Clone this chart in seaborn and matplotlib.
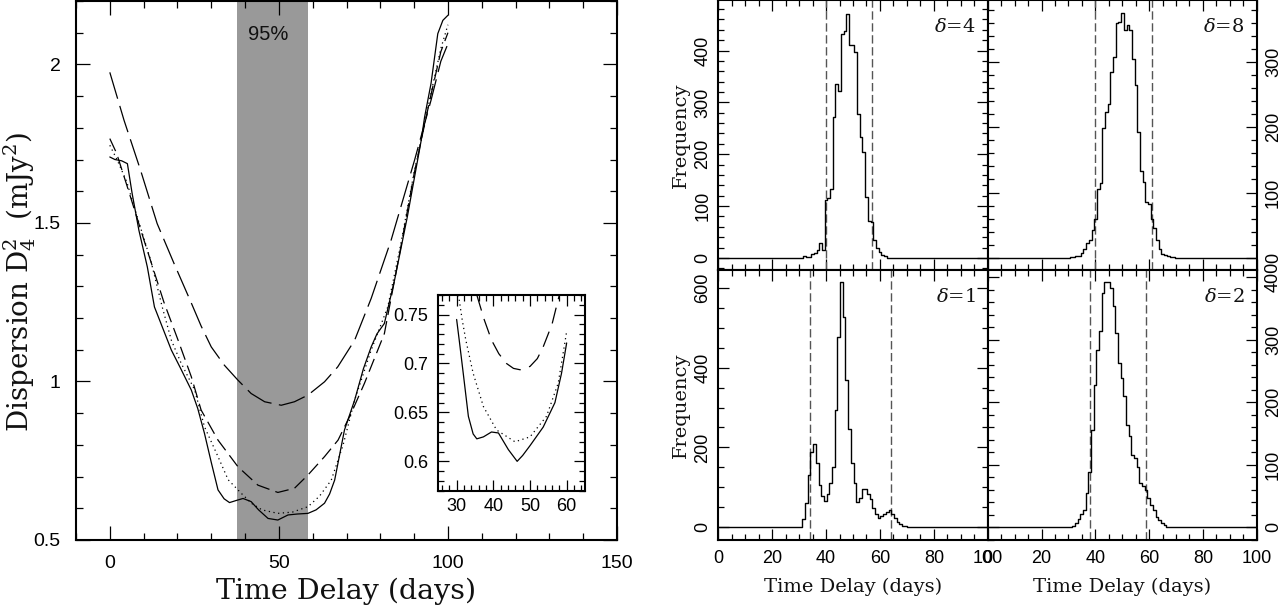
import numpy as np
import pandas as pd
import matplotlib
matplotlib.use("Agg")
import matplotlib.pyplot as plt
import seaborn as sns
from matplotlib.ticker import MultipleLocator, FuncFormatter

# ---------------- data: left panel (dispersion curves) ----------------
solid_x = [0, 1.5, 3.5, 5.2, 6.6, 8.6, 11.1, 13.2, 18.2, 21, 24.1, 26, 28, 30, 32, 33.8, 35.4, 37.5,
           39.4, 41.8, 44, 46.8, 49.7, 52.7, 55.5, 58.6, 61, 63.5, 65, 66.5, 69.4, 72.4, 75, 77.3,
           79, 81.2, 84.2, 88, 92.1, 93.1, 95, 97, 98.5, 100]
solid_y = [1.708, 1.700, 1.696, 1.687, 1.593, 1.477, 1.361, 1.235, 1.099, 1.040, 0.973, 0.915,
           0.836, 0.745, 0.658, 0.630, 0.618, 0.625, 0.631, 0.621, 0.595, 0.568, 0.563, 0.579,
           0.582, 0.584, 0.595, 0.616, 0.645, 0.689, 0.847, 0.941, 1.040, 1.109, 1.150, 1.183,
           1.319, 1.520, 1.761, 1.834, 1.940, 2.097, 2.139, 2.155]

dotted_x = [0, 2.2, 5, 8.1, 12.1, 15.5, 18.2, 21, 25.1, 28, 32, 35, 38.9, 42, 45, 49.7, 54, 58.6,
            62, 65.5, 69, 72.4, 77.3, 82.2, 86, 90, 92.1, 95, 97.9, 100]
dotted_y = [1.745, 1.698, 1.630, 1.519, 1.382, 1.235, 1.130, 1.060, 0.973, 0.857, 0.763, 0.690,
            0.647, 0.615, 0.595, 0.584, 0.588, 0.605, 0.638, 0.689, 0.800, 0.941, 1.099, 1.235,
            1.430, 1.660, 1.761, 1.910, 2.050, 2.125]

sdash_x = [0, 2, 5, 10.1, 16, 20.2, 24.1, 27, 32, 37.9, 43.8, 49.7, 54.6, 58.6, 63.5, 67.5, 71.4,
           75.3, 81.2, 86, 90, 92.1, 95, 97.9, 100]
sdash_y = [1.766, 1.720, 1.620, 1.446, 1.250, 1.130, 1.015, 0.910, 0.815, 0.731, 0.673, 0.650,
           0.663, 0.705, 0.763, 0.815, 0.900, 0.994, 1.151, 1.420, 1.655, 1.761, 1.905, 2.040, 2.100]

ldash_x = [0, 4.2, 9.1, 14, 19, 24, 27, 30, 33.9, 37.9, 41.8, 45.8, 50.7, 54.6, 58.6, 63.5, 67.4,
           72.4, 77.3, 83.2, 90.1, 95.0, 97.9, 100]
ldash_y = [1.975, 1.824, 1.666, 1.498, 1.372, 1.250, 1.175, 1.109, 1.051, 1.004, 0.962, 0.936,
           0.925, 0.936, 0.957, 0.999, 1.046, 1.130, 1.262, 1.446, 1.697, 1.887, 2.010, 2.065]

band_lo, band_hi = 37.6, 58.5
band_label = "95%"

# inset
in_solid_x = [30, 30.7, 31.8, 33.2, 34.5, 35.5, 37.3, 39.5, 41.4, 44.1, 46.5, 48, 50, 53.6, 56.8, 58.6, 60]
in_solid_y = [0.745, 0.724, 0.690, 0.646, 0.628, 0.623, 0.625, 0.630, 0.629, 0.612, 0.600, 0.606,
              0.616, 0.635, 0.660, 0.690, 0.721]
in_dot_x = [30.5, 31.5, 32.5, 34.5, 37.3, 40.9, 45.9, 50, 54.5, 57.7, 59.5, 60]
in_dot_y = [0.770, 0.745, 0.724, 0.690, 0.656, 0.632, 0.620, 0.625, 0.646, 0.680, 0.721, 0.733]
in_dash_x = [35.5, 37.5, 39.5, 41.5, 43.6, 45.5, 47.3, 50, 52, 53.6, 56, 58]
in_dash_y = [0.770, 0.745, 0.724, 0.710, 0.700, 0.695, 0.6936, 0.697, 0.705, 0.717, 0.740, 0.770]

# ---------------- data: histograms (1-day bins) ----------------
d4_start = 31.5
d4_vals = [3, 1, 1, 7, 10, 15, 29, 16, 112, 116, 133, 271, 335, 322, 431, 438, 470, 410, 410, 398,
           278, 234, 205, 117, 72, 69, 34, 20, 12, 5, 3]
d4_lims = [40.0, 56.9]

d8_start = 30.6
d8_vals = [2, 2, 3, 3, 8, 14, 22, 28, 42, 60, 106, 114, 198, 223, 236, 285, 308, 359, 361, 375,
           348, 356, 349, 305, 265, 193, 133, 116, 86, 83, 60, 45, 28, 13, 6, 4, 3, 1, 1]
d8_lims = [39.8, 61.1]

d1_start = 31.2
d1_vals = [20, 61, 130, 189, 208, 162, 105, 78, 65, 84, 111, 152, 295, 476, 615, 527, 369, 246, 162,
           111, 64, 73, 95, 96, 84, 71, 48, 34, 23, 29, 34, 38, 44, 34, 23, 14, 8, 4, 2]
d1_lims = [34.0, 64.0]

d2_start = 29.4
d2_vals = [1, 1, 2, 7, 13, 21, 28, 54, 88, 156, 227, 284, 314, 375, 392, 392, 383, 354, 311, 262,
           239, 210, 164, 146, 116, 111, 97, 71, 66, 60, 46, 36, 27, 17, 12, 6, 3, 1]
d2_lims = [38.0, 59.0]

# ---------------- style ----------------
sns.set_theme(style="ticks")
plt.rcParams.update({
    "font.family": ["Liberation Sans", "DejaVu Sans"],
    "mathtext.fontset": "dejavuserif",
    "axes.linewidth": 1.5,
    "axes.edgecolor": "black",
    "xtick.direction": "in",
    "ytick.direction": "in",
    "xtick.color": "black",
    "ytick.color": "black",
    "text.color": "#111111",
    "axes.labelcolor": "#111111",
})
SERIF = ["DejaVu Serif"]
fmt_g = FuncFormatter(lambda v, p: "%g" % round(v, 6))

fig = plt.figure(figsize=(12.86, 6.11), dpi=100)
W, H = 1286.0, 611.0


def px_axes(x0, y0, x1, y1):
    return fig.add_axes([x0 / W, (H - y1) / H, (x1 - x0) / W, (y1 - y0) / H])


def ticks(ax, maj_len, min_len, size, padx, pady):
    ax.tick_params(which="both", direction="in", top=True, right=True, bottom=True, left=True,
                   width=0.9, labelsize=size)
    ax.tick_params(which="major", length=maj_len)
    ax.tick_params(which="minor", length=min_len)
    ax.tick_params(axis="x", which="both", pad=padx)
    ax.tick_params(axis="y", which="both", pad=pady)


# ---------------- left panel ----------------
ax = px_axes(76, 1, 617, 540)
ax.axvspan(band_lo, band_hi, color="#999999", lw=0, zorder=0)
sns.lineplot(x=ldash_x, y=ldash_y, ax=ax, color="black", lw=0.9, estimator=None, sort=False,
             linestyle=(0, (22, 6)))
sns.lineplot(x=sdash_x, y=sdash_y, ax=ax, color="black", lw=0.9, estimator=None, sort=False,
             linestyle=(0, (11, 5)))
sns.lineplot(x=dotted_x, y=dotted_y, ax=ax, color="black", lw=0.9, estimator=None, sort=False,
             linestyle=(0, (1, 2.8)))
sns.lineplot(x=solid_x, y=solid_y, ax=ax, color="black", lw=0.9, estimator=None, sort=False)
ax.text((band_lo + band_hi) / 2 - 1.3, 2.095, band_label, ha="center", va="center", fontsize=14.5)
ax.set_xlim(-10, 150)
ax.set_ylim(0.5, 2.2)
ax.xaxis.set_major_locator(MultipleLocator(50))
ax.xaxis.set_minor_locator(MultipleLocator(10))
ax.yaxis.set_major_locator(MultipleLocator(0.5))
ax.yaxis.set_minor_locator(MultipleLocator(0.1))
ax.yaxis.set_major_formatter(fmt_g)
ticks(ax, 10, 5, 14, 11, 11)
ax.set_xlabel("Time Delay (days)", family=SERIF, fontsize=20.5, labelpad=4)
ax.set_ylabel(r"Dispersion D$_4^2$  (mJy$^2$)", family=SERIF, fontsize=20)
ax.yaxis.set_label_coords(-0.071, 0.48)

# inset
axi = px_axes(438.3, 295, 585, 490.7)
axi.set_facecolor("white")
sns.lineplot(x=in_dash_x, y=in_dash_y, ax=axi, color="black", lw=0.9, estimator=None, sort=False,
             linestyle=(0, (13, 7)))
sns.lineplot(x=in_dot_x, y=in_dot_y, ax=axi, color="black", lw=0.9, estimator=None, sort=False,
             linestyle=(0, (1, 2.8)))
sns.lineplot(x=in_solid_x, y=in_solid_y, ax=axi, color="black", lw=0.9, estimator=None, sort=False)
axi.set_xlim(25, 65)
axi.set_ylim(0.57, 0.77)
axi.xaxis.set_major_locator(MultipleLocator(10))
axi.xaxis.set_minor_locator(MultipleLocator(2))
axi.yaxis.set_major_locator(MultipleLocator(0.05))
axi.yaxis.set_minor_locator(MultipleLocator(0.01))
axi.yaxis.set_major_formatter(fmt_g)
ticks(axi, 8, 4, 13, 5, 7)
axi.set_xlabel("")
axi.set_ylabel("")

# ---------------- histograms ----------------
panels = [
    ((718.3, 0, 987.7, 269.5), d4_start, d4_vals, d4_lims, (-22.4, 497.5), 100, 20, r"$\delta$=4", "left", False),
    ((987.7, 0, 1256.7, 269.5), d8_start, d8_vals, d8_lims, (-17.8, 394.6), 100, 20, r"$\delta$=8", "right", False),
    ((718.3, 269.5, 987.7, 540), d1_start, d1_vals, d1_lims, (-32, 646), 200, 50, r"$\delta$=1", "left", True),
    ((987.7, 269.5, 1256.7, 540), d2_start, d2_vals, d2_lims, (-20.5, 412), 100, 20, r"$\delta$=2", "right", True),
]

for box, start, vals, lims, ylim, maj, mnr, lab, side, bottom in panels:
    a = px_axes(*box)
    edges = start + np.arange(len(vals) + 1)
    xs = np.concatenate([[0.0], edges, [100.0]])
    ys = np.concatenate([[0.0], vals, [0.0, 0.0]])
    df = pd.DataFrame({"delay": xs, "freq": ys})
    sns.lineplot(data=df, x="delay", y="freq", ax=a, color="black", lw=1.0, estimator=None,
                 sort=False, drawstyle="steps-post")
    for v in lims:
        a.axvline(v, color="#555555", lw=1.0, dashes=(6, 2.6), zorder=1)
    a.set_xlim(0, 100)
    a.set_ylim(*ylim)
    a.xaxis.set_major_locator(MultipleLocator(20))
    a.xaxis.set_minor_locator(MultipleLocator(5))
    a.yaxis.set_major_locator(MultipleLocator(maj))
    a.yaxis.set_minor_locator(MultipleLocator(mnr))
    ticks(a, 8, 4, 13, 7, 5 if side == "left" else 6)
    a.tick_params(axis="x", labelbottom=bottom)
    a.tick_params(axis="y", labelleft=(side == "left"), labelright=(side == "right"),
                  labelrotation=90)
    for t in a.get_yticklabels():
        t.set_verticalalignment("center")
    a.set_xlabel("Time Delay (days)" if bottom else "", family=SERIF, fontsize=14, labelpad=8)
    a.set_ylabel("Frequency" if side == "left" else "", family=SERIF, fontsize=14, labelpad=3)
    a.text(0.955, 0.9, lab, transform=a.transAxes, ha="right", va="center",
           fontsize=14, family=SERIF)

fig.savefig("out.png", dpi=100)
